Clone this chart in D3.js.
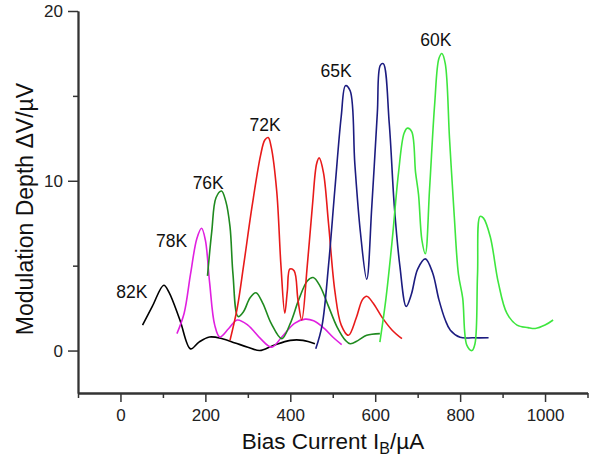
<!DOCTYPE html>
<html>
<head>
<meta charset="utf-8">
<script src="https://cdn.jsdelivr.net/npm/d3@7"></script>
<style>
  body { margin: 0; background: #fff; }
  text { font-family: "Liberation Sans", Arial, sans-serif; }
</style>
</head>
<body>
<div id="chart"></div>
<script>
// curves: [bias current in uA, modulation depth in uV]
const curve82K = [[52,1.5],[75,2.6],[102,3.85],[115,3.4],[140,1.8],[165,0.1],[185,0.5],[210,0.8],[240,0.7],[270,0.45],[300,0.2],[328,0.0],[360,0.3],[400,0.6],[430,0.6],[458,0.4]];
const curve78K = [[133,1.0],[150,2.2],[165,4.5],[180,6.6],[191,7.2],[200,6.5],[210,4.0],[222,1.5],[234,0.8],[255,1.3],[275,1.8],[300,1.5],[330,0.7],[356,0.2],[380,0.8],[410,1.6],[435,1.85],[455,1.75],[480,1.3],[500,0.8],[521,0.35]];
const curve76K = [[205,4.4],[215,7.0],[225,9.0],[238,9.4],[248,8.8],[258,7.3],[265,4.5],[277,2.0],[290,2.3],[305,3.1],[319,3.4],[335,2.8],[355,1.6],[380,0.7],[400,1.6],[420,3.0],[440,4.1],[454,4.3],[470,3.8],[490,2.6],[510,1.4],[530,0.6],[541,0.4],[560,0.6],[580,0.9],[611,1.0]];
const curve72K = [[258,0.6],[275,2.5],[290,5.0],[310,8.5],[330,11.5],[340,12.4],[348,12.55],[355,12.0],[368,9.4],[378,5.0],[387,2.2],[393,3.5],[399,4.8],[409,4.7],[418,3.0],[427,1.8],[440,5.0],[452,8.5],[462,11.0],[468,11.35],[478,10.5],[490,7.5],[505,3.5],[520,1.5],[537,0.9],[555,1.9],[570,3.0],[580,3.2],[595,2.8],[615,2.0],[640,1.2],[663,0.7]];
const curve65K = [[460,0.1],[475,1.5],[490,5.0],[505,9.5],[520,13.8],[530,15.6],[541,15.3],[552,11.0],[565,7.0],[580,4.2],[592,8.5],[605,14.0],[612,16.8],[619,16.9],[633,13.4],[645,8.5],[658,5.0],[673,2.6],[685,3.3],[700,4.8],[718,5.4],[735,4.6],[750,3.0],[765,1.8],[777,1.2],[800,0.78],[830,0.75],[867,0.75]];
const curve60K = [[611,0.5],[625,3.0],[640,6.5],[655,10.5],[668,12.8],[676,13.1],[686,12.9],[695,10.5],[702,9.2],[710,6.5],[718,5.7],[728,9.5],[740,14.5],[750,17.2],[757,17.5],[765,16.9],[775,12.5],[786,8.0],[796,4.5],[806,3.1],[816,0.3],[828,0.0],[835,0.4],[841,4.5],[847,7.9],[855,7.8],[871,6.7],[890,4.0],[910,2.2],[934,1.5],[960,1.35],[977,1.3],[1000,1.5],[1019,1.8]];

const temps = ["82K", "78K", "76K", "72K", "65K", "60K"];
const curveList = [curve82K, curve78K, curve76K, curve72K, curve65K, curve60K];
const colors = ["#000000", "#e020e0", "#1f8a1f", "#e81a1a", "#1c1c80", "#3ee63e"];
// where each temperature label sits (data coords, left edge / middle)
const labelAt = [[-10,3.45], [84,6.45], [170,9.9], [304,13.3], [471,16.5], [706,18.3]];

const xTicks = [0, 200, 400, 600, 800, 1000];
const xMinor = [-100, 100, 300, 500, 700, 900, 1100];
const yTicks = [0, 10, 20];
const yMinor = [5, 15];

const width = 590, height = 458;
const svg = d3.select("#chart").append("svg")
  .attr("width", width).attr("height", height);

const x = d3.scaleLinear().domain([-100, 1100]).range([78, 587.5]);
const y = d3.scaleLinear().domain([-2.5, 20]).range([393, 11]);

const axisColor = "#333";

// minor ticks first, then the labelled ones
svg.append("g").attr("transform", `translate(0,${y(-2.5)})`)
  .call(d3.axisBottom(x).tickValues(xMinor).tickSize(5).tickFormat("").tickSizeOuter(0));
svg.append("g").attr("transform", `translate(${x(-100)},0)`)
  .call(d3.axisLeft(y).tickValues(yMinor).tickSize(5).tickFormat("").tickSizeOuter(0));

svg.append("g").attr("transform", `translate(0,${y(-2.5)})`)
  .call(d3.axisBottom(x).tickValues(xTicks).tickFormat(d3.format("d"))
    .tickSize(9).tickPadding(7).tickSizeOuter(0));
svg.append("g").attr("transform", `translate(${x(-100)},0)`)
  .call(d3.axisLeft(y).tickValues(yTicks).tickFormat(d3.format("d"))
    .tickSize(10).tickPadding(5).tickSizeOuter(0));

svg.selectAll(".domain").attr("stroke", axisColor).attr("stroke-width", 1.8);
svg.selectAll(".tick line").attr("stroke", axisColor).attr("stroke-width", 1.5);
svg.selectAll(".tick text").attr("fill", "#222").style("font-size", "17px")
  .style("font-family", "'Liberation Sans', Arial, sans-serif");

const line = d3.line()
  .x(d => x(d[0])).y(d => y(d[1]))
  .curve(d3.curveCatmullRom.alpha(0.5));

svg.append("g").selectAll("path")
  .data(curveList)
  .enter()
  .append("path")
  .attr("d", d => line(d))
  .attr("fill", "none")
  .attr("stroke", (d, i) => colors[i])
  .attr("stroke-width", 1.6)
  .attr("stroke-linejoin", "round");

svg.append("g").selectAll("text")
  .data(temps)
  .enter()
  .append("text")
  .attr("x", (d, i) => x(labelAt[i][0]))
  .attr("y", (d, i) => y(labelAt[i][1]))
  .attr("dy", "0.35em")
  .style("font-size", "17.5px")
  .attr("fill", "#111")
  .text(d => d);

// axis titles
const xt = svg.append("text")
  .attr("x", 333).attr("y", 449)
  .attr("text-anchor", "middle")
  .style("font-size", "22.5px")
  .attr("fill", "#111");
xt.append("tspan").text("Bias Current I");
xt.append("tspan").attr("dy", 5).style("font-size", "16px").text("B");
xt.append("tspan").attr("dy", -5).text("/\u00b5A");

svg.append("text")
  .attr("transform", `translate(33,${209}) rotate(-90)`)
  .attr("text-anchor", "middle")
  .style("font-size", "23px")
  .attr("fill", "#111")
  .text("Modulation Depth \u0394V/\u00b5V");
</script>
</body>
</html>
